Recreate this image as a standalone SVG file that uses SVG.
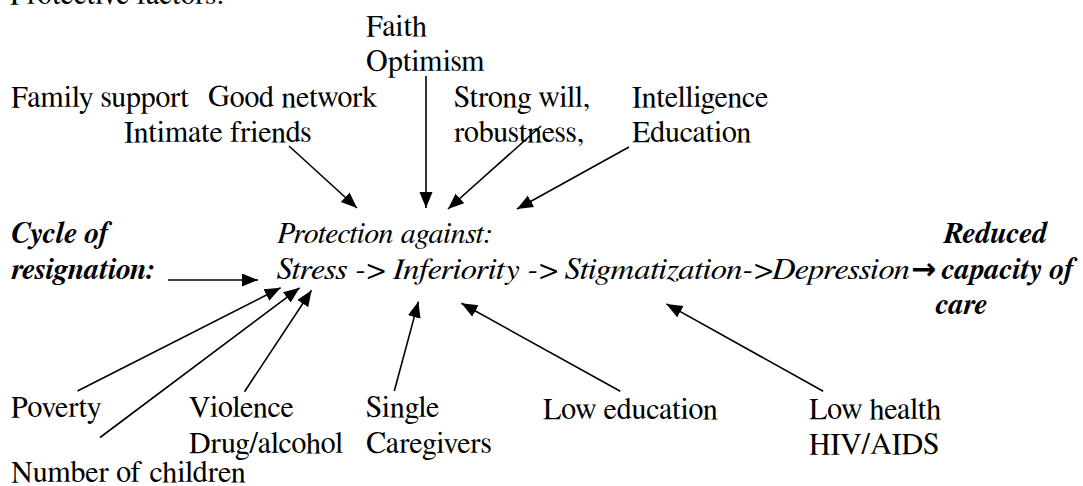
<svg xmlns="http://www.w3.org/2000/svg" width="1083" height="486" viewBox="0 0 1083 486">
<style>
text{font-family:FreeSerif,'Liberation Serif','Times New Roman',serif;font-size:30px;fill:#000}
.i{font-style:italic}
.bi{font-style:italic;font-weight:bold}
.ar{font-family:'DejaVu Sans',sans-serif;font-size:30px;font-weight:bold}
.c line{stroke:#000;stroke-width:1.6;marker-end:url(#ah)}
</style>
<defs>
<marker id="ah" markerUnits="userSpaceOnUse" markerWidth="18" markerHeight="14" refX="16" refY="6.5" orient="auto">
<path d="M0,0 L16,6.5 L0,13 Z" fill="#000"/>
</marker>
</defs>
<rect width="1083" height="486" fill="#fff"/>
<g id="title"><text x="10" y="4">Protective factors:</text></g>
<g id="faith"><text x="366" y="36">Faith</text><text x="366" y="71">Optimism</text></g>
<g id="family"><text x="11" y="107">Family support</text></g>
<g id="network"><text x="208" y="107">Good network</text><text x="124" y="142">Intimate friends</text></g>
<g id="will"><text x="454" y="107">Strong will,</text><text x="454" y="142">robustness,</text></g>
<g id="intel"><text x="632" y="107">Intelligence</text><text x="632" y="142">Education</text></g>
<g id="cycle"><text class="bi" x="11" y="243">Cycle of</text><text class="bi" x="11" y="279">resignation:</text></g>
<g id="protection">
<text class="i" x="277" y="243">Protection against:</text>
<text class="i" x="277" y="279" textLength="633" lengthAdjust="spacingAndGlyphs">Stress -&gt; Inferiority -&gt; Stigmatization-&gt;Depression</text>
<text class="ar" x="911" y="279">→</text>
</g>
<g id="reduced"><text class="bi" x="943" y="243">Reduced</text><text class="bi" x="941" y="279">capacity of</text><text class="bi" x="935" y="314">care</text></g>
<g id="poverty"><text x="11" y="417">Poverty</text></g>
<g id="children"><text x="11" y="482">Number of children</text></g>
<g id="violence"><text x="189" y="417">Violence</text><text x="189" y="453">Drug/alcohol</text></g>
<g id="single"><text x="366" y="417">Single</text><text x="366" y="453">Caregivers</text></g>
<g id="loweducation"><text x="543" y="419">Low education</text></g>
<g id="lowhealth"><text x="809" y="419">Low health</text><text x="809" y="454">HIV/AIDS</text></g>
<g id="connectors" class="c">
<line x1="289" y1="146" x2="357" y2="208"/>
<line x1="426" y1="76" x2="426" y2="208"/>
<line x1="541" y1="126" x2="448" y2="209"/>
<line x1="629" y1="147" x2="517" y2="209"/>
<line x1="168" y1="280" x2="258" y2="280"/>
<line x1="77.5" y1="391" x2="280.6" y2="287.8"/>
<line x1="100" y1="437.5" x2="299.6" y2="287.8"/>
<line x1="244.5" y1="391.7" x2="311.6" y2="290.2"/>
<line x1="394.3" y1="391" x2="418.4" y2="301.6"/>
<line x1="620.3" y1="391.2" x2="461.4" y2="303.3"/>
<line x1="823.2" y1="391.2" x2="666.4" y2="303.9"/>
</g>
</svg>
